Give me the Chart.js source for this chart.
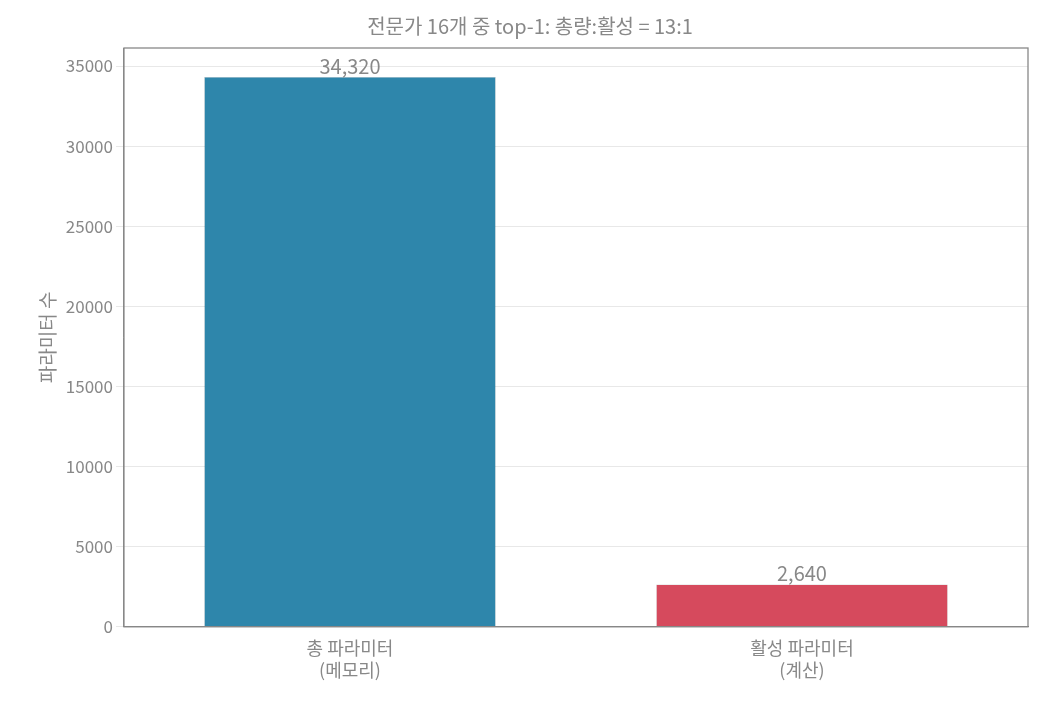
<!DOCTYPE html>
<html><head><meta charset="utf-8">
<script src="https://cdn.jsdelivr.net/npm/chart.js@4"></script>
<style>html,body{margin:0;padding:0;background:#fff}#w{width:1042px;height:706px}</style>
</head><body><div id="w"><canvas id="c"></canvas></div>
<script>
const categories = [["총 파라미터","(메모리)"],["활성 파라미터","(계산)"]];
const values = [34320, 2640];
const labels = ["34,320","2,640"];
const colors = ["#2E86AB","#D64A5D"];
const F = "'Noto Sans CJK KR','Noto Sans',sans-serif";
const valPlugin = {id:'vals',afterDatasetsDraw(ch){const c=ch.ctx;const m=ch.getDatasetMeta(0);c.save();c.font="20px "+F;c.fillStyle="#888";c.textAlign="center";c.textBaseline="bottom";m.data.forEach((b,i)=>c.fillText(labels[i],b.x,b.y-1));c.restore();}};
const borderPlugin = {id:'bd',afterDraw(ch){const a=ch.chartArea,c=ch.ctx;c.save();c.strokeStyle="#888";c.lineWidth=1.3;c.strokeRect(a.left,a.top,a.right-a.left,a.bottom-a.top);c.restore();}};
new Chart(document.getElementById('c'),{type:'bar',
data:{labels:categories,datasets:[{data:values,backgroundColor:colors,borderColor:"rgba(0,0,0,0.25)",borderWidth:0.5,barPercentage:0.645,categoryPercentage:1}]},
options:{responsive:true,maintainAspectRatio:false,animation:false,
layout:{padding:{left:32,right:14,top:14,bottom:22}},
plugins:{legend:{display:false},tooltip:{enabled:false},
title:{display:true,text:"전문가 16개 중 top-1: 총량:활성 = 13:1",color:"#888",font:{family:F,size:20,weight:'normal'},padding:{top:0,bottom:10}}},
scales:{x:{grid:{display:false},border:{color:"#888"},ticks:{color:"#888",font:{family:F,size:18}}},
y:{min:0,max:36125,afterBuildTicks(ax){ax.ticks=[0,5000,10000,15000,20000,25000,30000,35000].map(v=>({value:v}));},
grid:{color:"#e8e8e8"},border:{color:"#888"},
ticks:{color:"#888",font:{family:F,size:17},callback:v=>String(v)},
title:{display:true,text:"파라미터 수",color:"#888",font:{family:F,size:19}}}}},
plugins:[valPlugin,borderPlugin]});
</script></body></html>
